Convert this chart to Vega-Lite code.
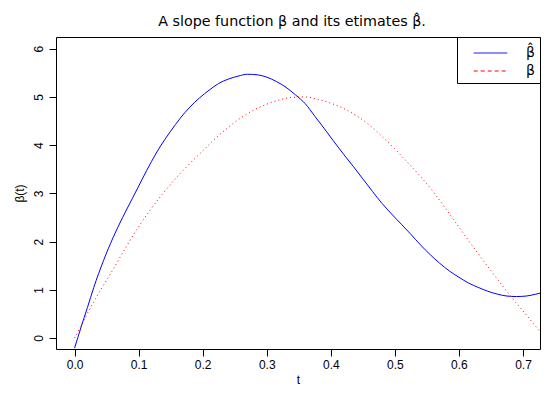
{
  "$schema": "https://vega.github.io/schema/vega-lite/v6.json",
  "width": 484,
  "height": 312,
  "autosize": "none",
  "padding": {"left": 56, "top": 37, "right": 10, "bottom": 44},
  "background": "white",
  "config": {
    "view": {"stroke": "black", "strokeWidth": 1},
    "font": "Liberation Sans"
  },
  "title": {
    "text": "A slope function β and its etimates β̂.",
    "font": "DejaVu Sans",
    "fontSize": 14.3,
    "fontWeight": "normal",
    "anchor": "middle",
    "frame": "group",
    "offset": 7,
    "dx": -6,
    "color": "black"
  },
  "data": {
    "values": [
      {"t": 0.0, "v": -0.21, "series": "β̂"},
      {"t": 0.01, "v": 0.22, "series": "β̂"},
      {"t": 0.02, "v": 0.63, "series": "β̂"},
      {"t": 0.03, "v": 1.05, "series": "β̂"},
      {"t": 0.045, "v": 1.60, "series": "β̂"},
      {"t": 0.06, "v": 2.08, "series": "β̂"},
      {"t": 0.075, "v": 2.50, "series": "β̂"},
      {"t": 0.09, "v": 2.89, "series": "β̂"},
      {"t": 0.105, "v": 3.28, "series": "β̂"},
      {"t": 0.12, "v": 3.66, "series": "β̂"},
      {"t": 0.135, "v": 4.00, "series": "β̂"},
      {"t": 0.15, "v": 4.29, "series": "β̂"},
      {"t": 0.165, "v": 4.56, "series": "β̂"},
      {"t": 0.18, "v": 4.79, "series": "β̂"},
      {"t": 0.195, "v": 4.98, "series": "β̂"},
      {"t": 0.21, "v": 5.14, "series": "β̂"},
      {"t": 0.225, "v": 5.28, "series": "β̂"},
      {"t": 0.24, "v": 5.37, "series": "β̂"},
      {"t": 0.255, "v": 5.43, "series": "β̂"},
      {"t": 0.27, "v": 5.47, "series": "β̂"},
      {"t": 0.285, "v": 5.46, "series": "β̂"},
      {"t": 0.30, "v": 5.41, "series": "β̂"},
      {"t": 0.315, "v": 5.32, "series": "β̂"},
      {"t": 0.33, "v": 5.20, "series": "β̂"},
      {"t": 0.345, "v": 5.04, "series": "β̂"},
      {"t": 0.36, "v": 4.86, "series": "β̂"},
      {"t": 0.375, "v": 4.60, "series": "β̂"},
      {"t": 0.39, "v": 4.34, "series": "β̂"},
      {"t": 0.405, "v": 4.07, "series": "β̂"},
      {"t": 0.42, "v": 3.81, "series": "β̂"},
      {"t": 0.435, "v": 3.56, "series": "β̂"},
      {"t": 0.45, "v": 3.30, "series": "β̂"},
      {"t": 0.465, "v": 3.04, "series": "β̂"},
      {"t": 0.48, "v": 2.79, "series": "β̂"},
      {"t": 0.495, "v": 2.57, "series": "β̂"},
      {"t": 0.51, "v": 2.36, "series": "β̂"},
      {"t": 0.525, "v": 2.15, "series": "β̂"},
      {"t": 0.54, "v": 1.93, "series": "β̂"},
      {"t": 0.555, "v": 1.73, "series": "β̂"},
      {"t": 0.57, "v": 1.55, "series": "β̂"},
      {"t": 0.585, "v": 1.39, "series": "β̂"},
      {"t": 0.60, "v": 1.26, "series": "β̂"},
      {"t": 0.615, "v": 1.14, "series": "β̂"},
      {"t": 0.63, "v": 1.05, "series": "β̂"},
      {"t": 0.645, "v": 0.97, "series": "β̂"},
      {"t": 0.66, "v": 0.91, "series": "β̂"},
      {"t": 0.675, "v": 0.87, "series": "β̂"},
      {"t": 0.69, "v": 0.86, "series": "β̂"},
      {"t": 0.705, "v": 0.87, "series": "β̂"},
      {"t": 0.72, "v": 0.91, "series": "β̂"},
      {"t": 0.7265, "v": 0.93, "series": "β̂"},
      {"t": 0.0, "v": 0.0, "series": "β"},
      {"t": 0.01, "v": 0.25, "series": "β"},
      {"t": 0.02, "v": 0.51, "series": "β"},
      {"t": 0.03, "v": 0.75, "series": "β"},
      {"t": 0.04, "v": 0.98, "series": "β"},
      {"t": 0.06, "v": 1.42, "series": "β"},
      {"t": 0.08, "v": 1.88, "series": "β"},
      {"t": 0.10, "v": 2.31, "series": "β"},
      {"t": 0.12, "v": 2.69, "series": "β"},
      {"t": 0.14, "v": 3.03, "series": "β"},
      {"t": 0.16, "v": 3.34, "series": "β"},
      {"t": 0.18, "v": 3.62, "series": "β"},
      {"t": 0.20, "v": 3.88, "series": "β"},
      {"t": 0.22, "v": 4.14, "series": "β"},
      {"t": 0.24, "v": 4.37, "series": "β"},
      {"t": 0.26, "v": 4.57, "series": "β"},
      {"t": 0.28, "v": 4.73, "series": "β"},
      {"t": 0.30, "v": 4.85, "series": "β"},
      {"t": 0.32, "v": 4.94, "series": "β"},
      {"t": 0.34, "v": 4.99, "series": "β"},
      {"t": 0.36, "v": 5.00, "series": "β"},
      {"t": 0.38, "v": 4.95, "series": "β"},
      {"t": 0.40, "v": 4.87, "series": "β"},
      {"t": 0.42, "v": 4.76, "series": "β"},
      {"t": 0.44, "v": 4.61, "series": "β"},
      {"t": 0.46, "v": 4.42, "series": "β"},
      {"t": 0.48, "v": 4.18, "series": "β"},
      {"t": 0.50, "v": 3.92, "series": "β"},
      {"t": 0.52, "v": 3.64, "series": "β"},
      {"t": 0.54, "v": 3.35, "series": "β"},
      {"t": 0.56, "v": 3.03, "series": "β"},
      {"t": 0.58, "v": 2.67, "series": "β"},
      {"t": 0.60, "v": 2.30, "series": "β"},
      {"t": 0.62, "v": 1.93, "series": "β"},
      {"t": 0.64, "v": 1.57, "series": "β"},
      {"t": 0.66, "v": 1.22, "series": "β"},
      {"t": 0.68, "v": 0.88, "series": "β"},
      {"t": 0.70, "v": 0.56, "series": "β"},
      {"t": 0.72, "v": 0.24, "series": "β"},
      {"t": 0.73, "v": 0.08, "series": "β"}
    ]
  },
  "encoding": {
    "x": {
      "field": "t",
      "type": "quantitative",
      "scale": {"domain": [-0.029, 0.7265], "nice": false, "zero": false},
      "axis": {
        "title": "t",
        "values": [0, 0.1, 0.2, 0.3, 0.4, 0.5, 0.6, 0.7],
        "format": ".1f",
        "grid": false,
        "domain": false,
        "tickColor": "black",
        "tickSize": 7,
        "labelPadding": 3,
        "labelFont": "Liberation Sans",
        "labelFontSize": 12,
        "labelColor": "black",
        "titleFont": "Liberation Sans",
        "titleFontSize": 12,
        "titleFontWeight": "normal",
        "titleColor": "black",
        "titlePadding": 4
      }
    },
    "y": {
      "field": "v",
      "type": "quantitative",
      "scale": {"domain": [-0.228, 6.243], "nice": false, "zero": false},
      "axis": {
        "title": "β(t)",
        "values": [0, 1, 2, 3, 4, 5, 6],
        "format": "d",
        "grid": false,
        "domain": false,
        "tickColor": "black",
        "tickSize": 7,
        "labelAngle": -90,
        "labelAlign": "center",
        "labelBaseline": "bottom",
        "labelPadding": 4,
        "labelFont": "Liberation Sans",
        "labelFontSize": 12,
        "labelColor": "black",
        "titleFont": "Liberation Sans",
        "titleFontSize": 12,
        "titleFontWeight": "normal",
        "titleColor": "black",
        "titlePadding": 6
      }
    },
    "color": {
      "field": "series",
      "type": "nominal",
      "scale": {"domain": ["β̂", "β"], "range": ["#0000ff", "#ff0000"]},
      "legend": {
        "title": null,
        "orient": "top-right",
        "offset": 0,
        "strokeColor": "black",
        "fillColor": "white",
        "padding": 5,
        "cornerRadius": 0,
        "symbolType": "M-1.6,0H1.6",
        "symbolSize": 441,
        "symbolStrokeWidth": 1,
        "symbolOffset": 17.5,
        "labelOffset": 24.5,
        "rowPadding": -5,
        "labelFont": "DejaVu Sans",
        "labelFontSize": 14,
        "labelColor": "black",
        "encode": {
          "symbols": {"update": {
            "fill": {"value": "transparent"},
            "strokeDash": {"signal": "datum.value === 'β' ? [4, 3] : [1, 0]"}
          }}
        }
      }
    }
  },
  "layer": [
    {
      "transform": [{"filter": "datum.series === 'β̂'"}],
      "mark": {"type": "line", "clip": true, "strokeWidth": 1, "interpolate": "monotone"}
    },
    {
      "transform": [{"filter": "datum.series === 'β'"}],
      "mark": {"type": "line", "clip": true, "strokeWidth": 1, "interpolate": "monotone", "strokeDash": [1, 3]}
    }
  ]
}
